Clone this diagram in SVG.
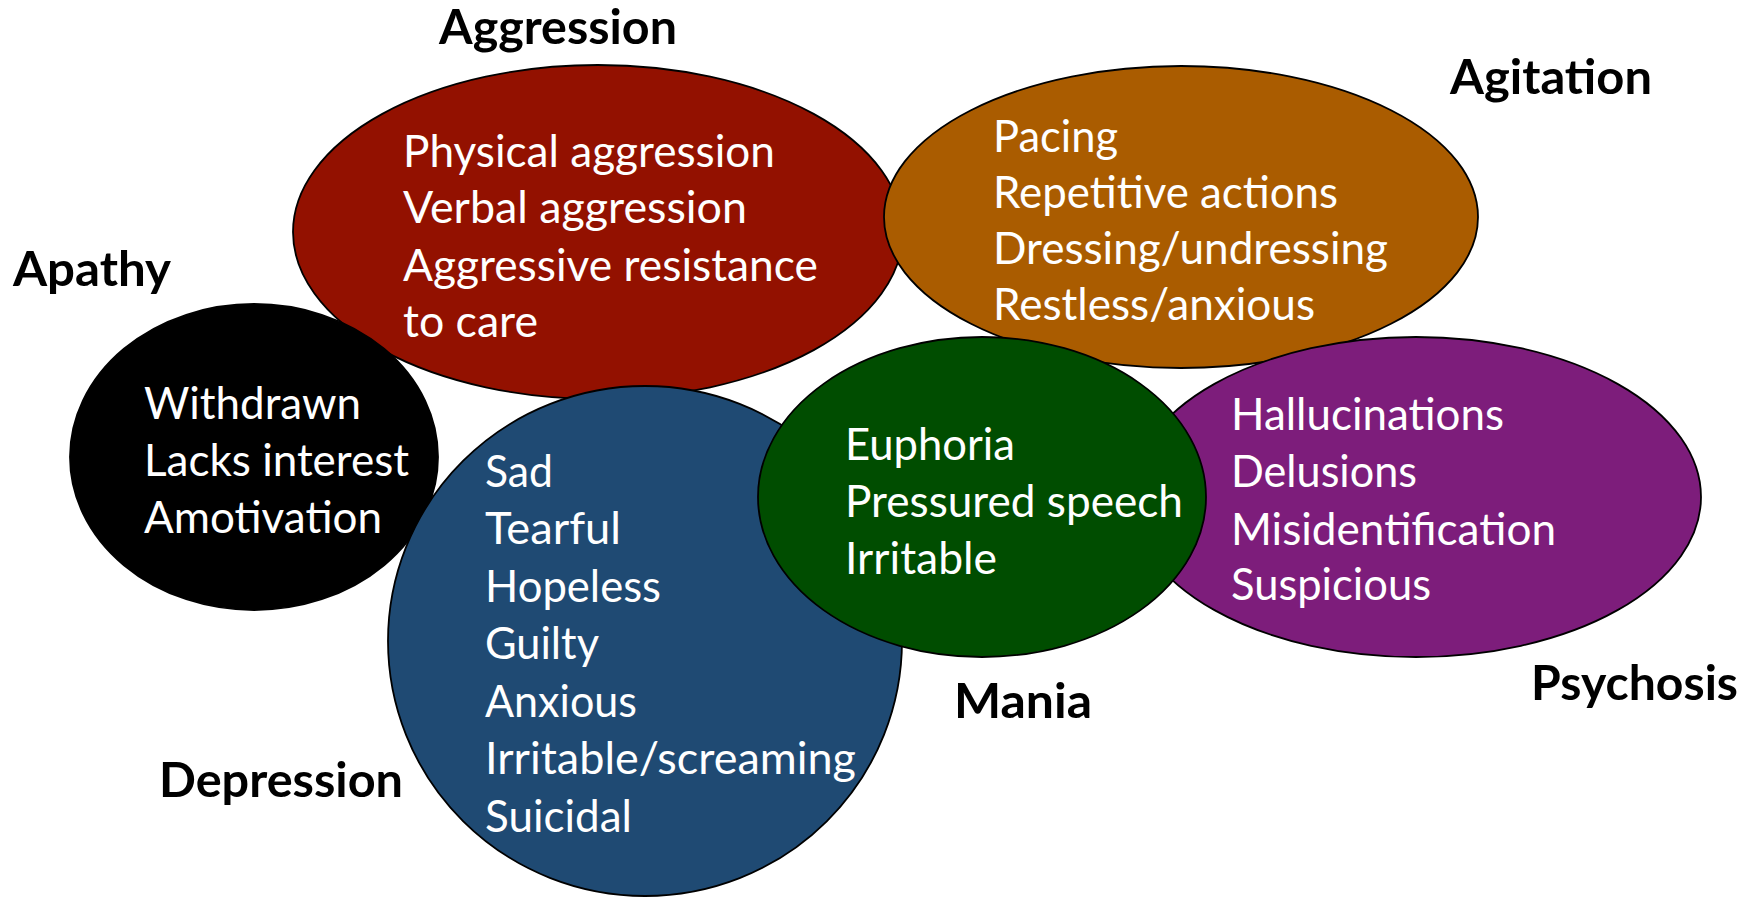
<svg xmlns="http://www.w3.org/2000/svg" width="1756" height="897" viewBox="0 0 1756 897">
<style>
.blob{stroke:#000;stroke-width:1.8}
.item{font-family:Lato,"Open Sans","Liberation Sans",sans-serif;font-size:44px;fill:#fff}
.label{font-family:Lato,"Open Sans","Liberation Sans",sans-serif;font-size:48px;font-weight:bold;fill:#000}
</style>
<rect width="1756" height="897" fill="#fff"/>
<g id="aggression">
<ellipse class="blob" cx="598" cy="232" rx="305" ry="167" fill="#931100"/>
<text class="label" x="439" y="44" textLength="238" lengthAdjust="spacingAndGlyphs">Aggression</text>
<text class="item" x="403" y="167" textLength="372" lengthAdjust="spacingAndGlyphs">Physical aggression</text>
<text class="item" x="403" y="223" textLength="344" lengthAdjust="spacingAndGlyphs">Verbal aggression</text>
<text class="item" x="403" y="281" textLength="415" lengthAdjust="spacingAndGlyphs">Aggressive resistance</text>
<text class="item" x="403" y="337" textLength="135" lengthAdjust="spacingAndGlyphs">to care</text>
</g>
<g id="apathy">
<ellipse class="blob" cx="254" cy="457" rx="184" ry="153" fill="#000"/>
<text class="label" x="13" y="286" textLength="158" lengthAdjust="spacingAndGlyphs">Apathy</text>
<text class="item" x="144" y="419" textLength="217" lengthAdjust="spacingAndGlyphs">Withdrawn</text>
<text class="item" x="144" y="476" textLength="265" lengthAdjust="spacingAndGlyphs">Lacks interest</text>
<text class="item" x="144" y="533" textLength="238" lengthAdjust="spacingAndGlyphs">Amotivation</text>
</g>
<g id="depression">
<ellipse class="blob" cx="645" cy="641" rx="257" ry="255" fill="#1F4A73"/>
<text class="label" x="159" y="797" textLength="244" lengthAdjust="spacingAndGlyphs">Depression</text>
<text class="item" x="485" y="487" textLength="68" lengthAdjust="spacingAndGlyphs">Sad</text>
<text class="item" x="485" y="544" textLength="136" lengthAdjust="spacingAndGlyphs">Tearful</text>
<text class="item" x="485" y="602" textLength="176" lengthAdjust="spacingAndGlyphs">Hopeless</text>
<text class="item" x="485" y="659" textLength="114" lengthAdjust="spacingAndGlyphs">Guilty</text>
<text class="item" x="485" y="717" textLength="152" lengthAdjust="spacingAndGlyphs">Anxious</text>
<text class="item" x="485" y="774" textLength="371" lengthAdjust="spacingAndGlyphs">Irritable/screaming</text>
<text class="item" x="485" y="832" textLength="147" lengthAdjust="spacingAndGlyphs">Suicidal</text>
</g>
<g id="agitation">
<ellipse class="blob" cx="1181" cy="217" rx="297" ry="151" fill="#AA5C00"/>
<text class="label" x="1450" y="94" textLength="202" lengthAdjust="spacingAndGlyphs">Agitation</text>
<text class="item" x="993" y="152" textLength="125" lengthAdjust="spacingAndGlyphs">Pacing</text>
<text class="item" x="993" y="208" textLength="345" lengthAdjust="spacingAndGlyphs">Repetitive actions</text>
<text class="item" x="993" y="264" textLength="395" lengthAdjust="spacingAndGlyphs">Dressing/undressing</text>
<text class="item" x="993" y="320" textLength="322" lengthAdjust="spacingAndGlyphs">Restless/anxious</text>
</g>
<g id="psychosis">
<ellipse class="blob" cx="1416" cy="497" rx="285" ry="160" fill="#7D1D7B"/>
<text class="label" x="1531" y="700" textLength="207" lengthAdjust="spacingAndGlyphs">Psychosis</text>
<text class="item" x="1231" y="430" textLength="273" lengthAdjust="spacingAndGlyphs">Hallucinations</text>
<text class="item" x="1231" y="487" textLength="186" lengthAdjust="spacingAndGlyphs">Delusions</text>
<text class="item" x="1231" y="545" textLength="325" lengthAdjust="spacingAndGlyphs">Misidentification</text>
<text class="item" x="1231" y="600" textLength="200" lengthAdjust="spacingAndGlyphs">Suspicious</text>
</g>
<g id="mania">
<ellipse class="blob" cx="982" cy="497" rx="224" ry="160" fill="#004D00"/>
<text class="label" x="954" y="718" textLength="138" lengthAdjust="spacingAndGlyphs">Mania</text>
<text class="item" x="845" y="460" textLength="170" lengthAdjust="spacingAndGlyphs">Euphoria</text>
<text class="item" x="845" y="517" textLength="338" lengthAdjust="spacingAndGlyphs">Pressured speech</text>
<text class="item" x="845" y="574" textLength="152" lengthAdjust="spacingAndGlyphs">Irritable</text>
</g>
<g id="connectors"/>
</svg>
